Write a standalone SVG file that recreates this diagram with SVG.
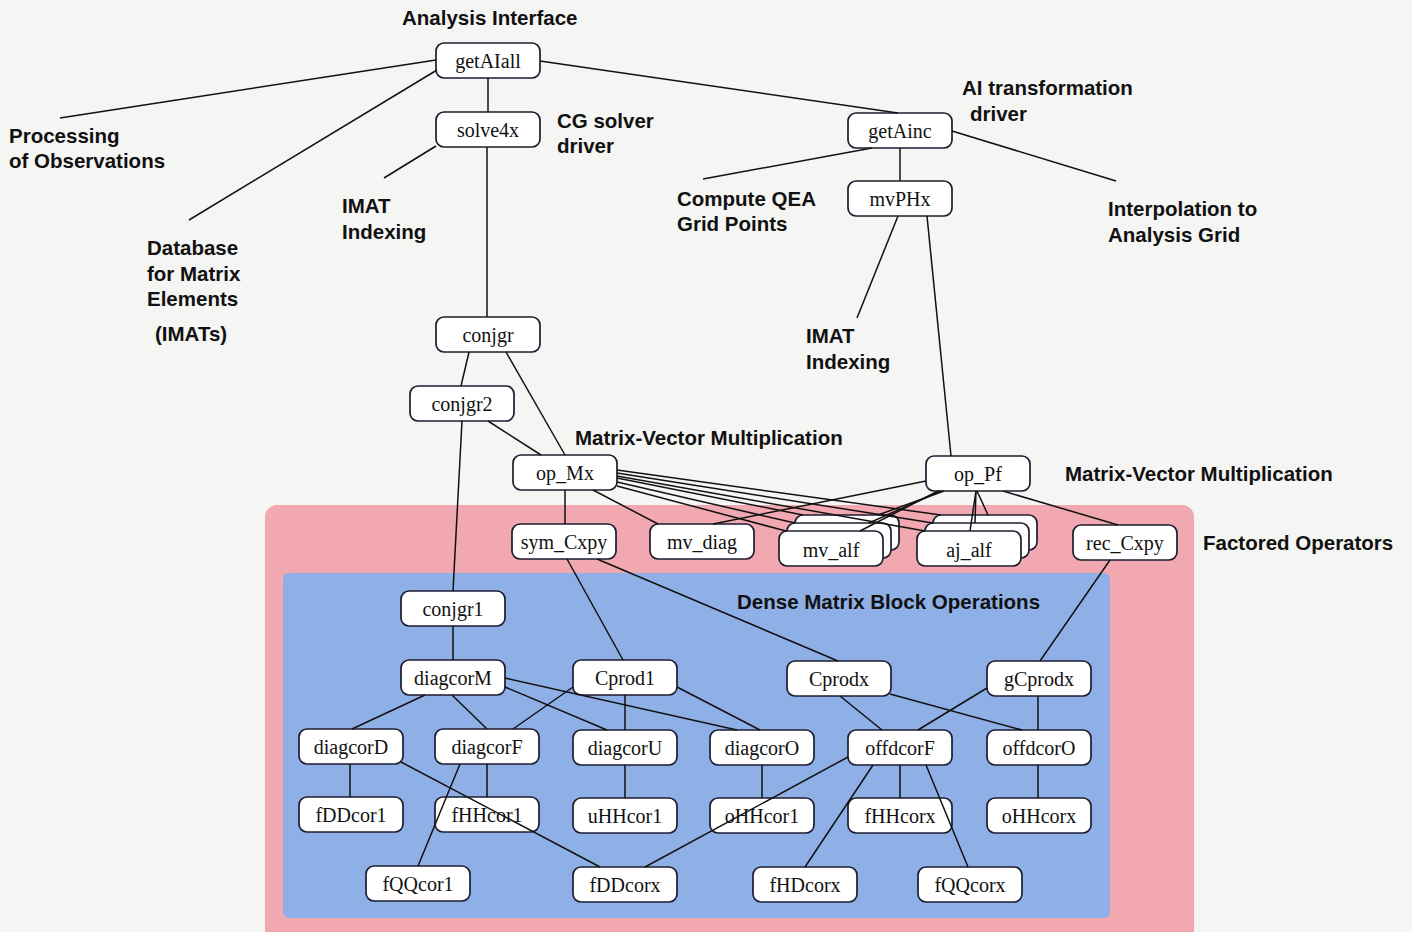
<svg xmlns="http://www.w3.org/2000/svg" width="1412" height="932" viewBox="0 0 1412 932">
  <style>
    .node rect { fill: #ffffff; stroke: #1c1c30; stroke-width: 1.7; }
    .node text { font-family: "Liberation Serif", "Times New Roman", serif; font-size: 20px; fill: #111; text-anchor: middle; }
    .lbl { font-family: "Liberation Sans", Arial, sans-serif; font-size: 20.5px; font-weight: bold; fill: #111; }
    #connectors line { stroke: #111; stroke-width: 1.5; fill: none; }
  </style>

  <!-- background and grouping panels -->
  <rect x="0" y="0" width="1412" height="932" fill="#f5f5f3"/>
  <rect id="factored-panel" x="265" y="505" width="929" height="440" rx="12" fill="#f1a8b0"/>
  <rect id="dense-panel" x="283" y="573" width="827" height="345" rx="6" fill="#8fb0e6"/>

  <!-- nodes -->
  <g class="node" id="getAIall"><rect x="436" y="43" width="104" height="35" rx="8"/><text x="488" y="68">getAIall</text></g>
  <g class="node" id="solve4x"><rect x="436" y="112" width="104" height="35" rx="8"/><text x="488" y="137">solve4x</text></g>
  <g class="node" id="getAinc"><rect x="848" y="113" width="104" height="35" rx="8"/><text x="900" y="138">getAinc</text></g>
  <g class="node" id="mvPHx"><rect x="848" y="181" width="104" height="35" rx="8"/><text x="900" y="206">mvPHx</text></g>
  <g class="node" id="conjgr"><rect x="436" y="317" width="104" height="35" rx="8"/><text x="488" y="342">conjgr</text></g>
  <g class="node" id="conjgr2"><rect x="410" y="386" width="104" height="35" rx="8"/><text x="462" y="411">conjgr2</text></g>
  <g class="node" id="op_Mx"><rect x="513" y="455" width="104" height="35" rx="8"/><text x="565" y="480">op_Mx</text></g>
  <g class="node" id="op_Pf"><rect x="926" y="456" width="104" height="35" rx="8"/><text x="978" y="481">op_Pf</text></g>
  <g class="node" id="sym_Cxpy"><rect x="512" y="524" width="104" height="35" rx="8"/><text x="564" y="549">sym_Cxpy</text></g>
  <g class="node" id="mv_diag"><rect x="650" y="524" width="104" height="35" rx="8"/><text x="702" y="549">mv_diag</text></g>
  <g class="node" id="mv_alf">
    <rect x="795" y="515" width="104" height="35" rx="8"/>
    <rect x="787" y="523" width="104" height="35" rx="8"/>
    <rect x="779" y="531" width="104" height="35" rx="8"/>
    <text x="831" y="557">mv_alf</text>
  </g>
  <g class="node" id="aj_alf">
    <rect x="933" y="515" width="104" height="35" rx="8"/>
    <rect x="925" y="523" width="104" height="35" rx="8"/>
    <rect x="917" y="531" width="104" height="35" rx="8"/>
    <text x="969" y="557">aj_alf</text>
  </g>
  <g class="node" id="rec_Cxpy"><rect x="1073" y="525" width="104" height="35" rx="8"/><text x="1125" y="550">rec_Cxpy</text></g>
  <g class="node" id="conjgr1"><rect x="401" y="591" width="104" height="35" rx="8"/><text x="453" y="616">conjgr1</text></g>
  <g class="node" id="diagcorM"><rect x="401" y="660" width="104" height="35" rx="8"/><text x="453" y="685">diagcorM</text></g>
  <g class="node" id="Cprod1"><rect x="573" y="660" width="104" height="35" rx="8"/><text x="625" y="685">Cprod1</text></g>
  <g class="node" id="Cprodx"><rect x="787" y="661" width="104" height="35" rx="8"/><text x="839" y="686">Cprodx</text></g>
  <g class="node" id="gCprodx"><rect x="987" y="661" width="104" height="35" rx="8"/><text x="1039" y="686">gCprodx</text></g>
  <g class="node" id="diagcorD"><rect x="299" y="729" width="104" height="35" rx="8"/><text x="351" y="754">diagcorD</text></g>
  <g class="node" id="diagcorF"><rect x="435" y="729" width="104" height="35" rx="8"/><text x="487" y="754">diagcorF</text></g>
  <g class="node" id="diagcorU"><rect x="573" y="730" width="104" height="35" rx="8"/><text x="625" y="755">diagcorU</text></g>
  <g class="node" id="diagcorO"><rect x="710" y="730" width="104" height="35" rx="8"/><text x="762" y="755">diagcorO</text></g>
  <g class="node" id="offdcorF"><rect x="848" y="730" width="104" height="35" rx="8"/><text x="900" y="755">offdcorF</text></g>
  <g class="node" id="offdcorO"><rect x="987" y="730" width="104" height="35" rx="8"/><text x="1039" y="755">offdcorO</text></g>
  <g class="node" id="fDDcor1"><rect x="299" y="797" width="104" height="35" rx="8"/><text x="351" y="822">fDDcor1</text></g>
  <g class="node" id="fHHcor1"><rect x="435" y="797" width="104" height="35" rx="8"/><text x="487" y="822">fHHcor1</text></g>
  <g class="node" id="uHHcor1"><rect x="573" y="798" width="104" height="35" rx="8"/><text x="625" y="823">uHHcor1</text></g>
  <g class="node" id="oHHcor1"><rect x="710" y="798" width="104" height="35" rx="8"/><text x="762" y="823">oHHcor1</text></g>
  <g class="node" id="fHHcorx"><rect x="848" y="798" width="104" height="35" rx="8"/><text x="900" y="823">fHHcorx</text></g>
  <g class="node" id="oHHcorx"><rect x="987" y="798" width="104" height="35" rx="8"/><text x="1039" y="823">oHHcorx</text></g>
  <g class="node" id="fQQcor1"><rect x="366" y="866" width="104" height="35" rx="8"/><text x="418" y="891">fQQcor1</text></g>
  <g class="node" id="fDDcorx"><rect x="573" y="867" width="104" height="35" rx="8"/><text x="625" y="892">fDDcorx</text></g>
  <g class="node" id="fHDcorx"><rect x="753" y="867" width="104" height="35" rx="8"/><text x="805" y="892">fHDcorx</text></g>
  <g class="node" id="fQQcorx"><rect x="918" y="867" width="104" height="35" rx="8"/><text x="970" y="892">fQQcorx</text></g>

  <!-- connectors (drawn over the boxes, ending at their edges) -->
  <g id="connectors">
    <line x1="436" y1="60" x2="60" y2="118"/>
    <line x1="437" y1="70" x2="189" y2="220"/>
    <line x1="488" y1="78" x2="488" y2="112"/>
    <line x1="540" y1="61" x2="898" y2="113"/>
    <line x1="872" y1="148" x2="703" y2="179"/>
    <line x1="952" y1="131" x2="1116" y2="181"/>
    <line x1="900" y1="148" x2="900" y2="181"/>
    <line x1="436" y1="146" x2="384" y2="178"/>
    <line x1="487" y1="147" x2="487" y2="317"/>
    <line x1="898" y1="216" x2="857" y2="318"/>
    <line x1="927" y1="216" x2="951" y2="456"/>
    <line x1="469" y1="352" x2="461" y2="386"/>
    <line x1="506" y1="352" x2="565" y2="455"/>
    <line x1="488" y1="421" x2="541" y2="455"/>
    <line x1="462" y1="421" x2="453" y2="591"/>
    <line x1="565" y1="490" x2="565" y2="524"/>
    <line x1="593" y1="490" x2="658" y2="524"/>
    <line x1="617" y1="478" x2="803" y2="515"/>
    <line x1="617" y1="482" x2="795" y2="523"/>
    <line x1="617" y1="486" x2="786" y2="531"/>
    <line x1="617" y1="470" x2="941" y2="515"/>
    <line x1="617" y1="473" x2="933" y2="523"/>
    <line x1="617" y1="476" x2="925" y2="531"/>
    <line x1="926" y1="481" x2="713" y2="524"/>
    <line x1="938" y1="491" x2="860" y2="531"/>
    <line x1="941" y1="491" x2="869" y2="523"/>
    <line x1="944" y1="491" x2="878" y2="515"/>
    <line x1="976" y1="491" x2="970" y2="531"/>
    <line x1="976" y1="491" x2="975" y2="523"/>
    <line x1="977" y1="491" x2="988" y2="515"/>
    <line x1="1003" y1="491" x2="1118" y2="525"/>
    <line x1="567" y1="559" x2="623" y2="660"/>
    <line x1="597" y1="559" x2="838" y2="661"/>
    <line x1="1110" y1="560" x2="1040" y2="661"/>
    <line x1="453" y1="626" x2="453" y2="660"/>
    <line x1="425" y1="695" x2="352" y2="729"/>
    <line x1="452" y1="695" x2="487" y2="729"/>
    <line x1="505" y1="687" x2="607" y2="730"/>
    <line x1="505" y1="678" x2="737" y2="730"/>
    <line x1="573" y1="687" x2="513" y2="729"/>
    <line x1="625" y1="695" x2="625" y2="730"/>
    <line x1="677" y1="687" x2="760" y2="730"/>
    <line x1="840" y1="696" x2="882" y2="730"/>
    <line x1="890" y1="694" x2="1022" y2="730"/>
    <line x1="987" y1="688" x2="918" y2="730"/>
    <line x1="1038" y1="696" x2="1038" y2="730"/>
    <line x1="350" y1="764" x2="350" y2="797"/>
    <line x1="401" y1="762" x2="600" y2="867"/>
    <line x1="487" y1="764" x2="487" y2="797"/>
    <line x1="460" y1="764" x2="418" y2="866"/>
    <line x1="625" y1="765" x2="625" y2="798"/>
    <line x1="762" y1="765" x2="762" y2="798"/>
    <line x1="848" y1="757" x2="645" y2="867"/>
    <line x1="900" y1="765" x2="900" y2="798"/>
    <line x1="873" y1="765" x2="805" y2="867"/>
    <line x1="926" y1="765" x2="968" y2="867"/>
    <line x1="1038" y1="765" x2="1038" y2="798"/>
  </g>

  <!-- annotations -->
  <g id="labels">
    <text class="lbl" x="402" y="25">Analysis Interface</text>
    <text class="lbl" x="9" y="143">Processing</text>
    <text class="lbl" x="9" y="168">of Observations</text>
    <text class="lbl" x="147" y="255">Database</text>
    <text class="lbl" x="147" y="281">for Matrix</text>
    <text class="lbl" x="147" y="306">Elements</text>
    <text class="lbl" x="155" y="341">(IMATs)</text>
    <text class="lbl" x="342" y="213">IMAT</text>
    <text class="lbl" x="342" y="239">Indexing</text>
    <text class="lbl" x="557" y="128">CG solver</text>
    <text class="lbl" x="557" y="153">driver</text>
    <text class="lbl" x="962" y="95">AI transformation</text>
    <text class="lbl" x="970" y="121">driver</text>
    <text class="lbl" x="677" y="206">Compute QEA</text>
    <text class="lbl" x="677" y="231">Grid Points</text>
    <text class="lbl" x="1108" y="216">Interpolation to</text>
    <text class="lbl" x="1108" y="242">Analysis Grid</text>
    <text class="lbl" x="806" y="343">IMAT</text>
    <text class="lbl" x="806" y="369">Indexing</text>
    <text class="lbl" x="575" y="445">Matrix-Vector Multiplication</text>
    <text class="lbl" x="1065" y="481">Matrix-Vector Multiplication</text>
    <text class="lbl" x="1203" y="550">Factored Operators</text>
    <text class="lbl" x="737" y="609">Dense Matrix Block Operations</text>
  </g>
</svg>
